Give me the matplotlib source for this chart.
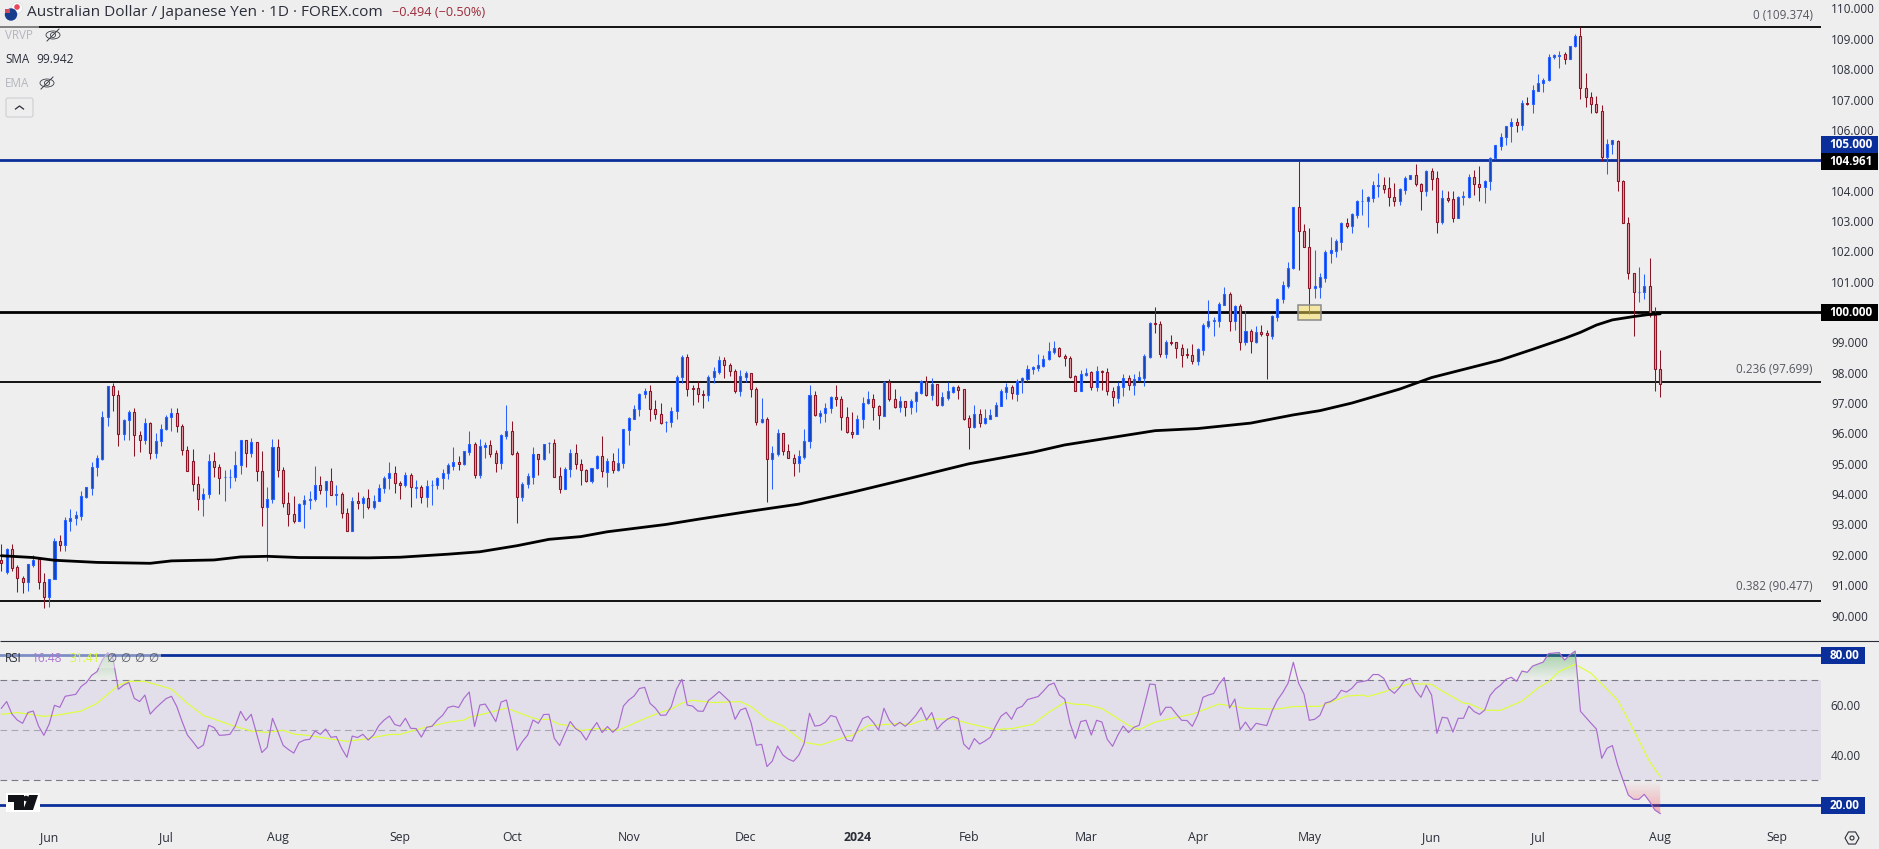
import numpy as np
import matplotlib
matplotlib.use('Agg')
import matplotlib.pyplot as plt
from matplotlib.patches import Rectangle, FancyBboxPatch, Circle, Ellipse, Polygon, RegularPolygon
from matplotlib.path import Path

plt.rcParams['font.family'] = ['Open Sans', 'DejaVu Sans']

# AUD/JPY daily candles
opens = [91.83,91.43,92.18,91.59,91.22,91.09,91.67,91.86,91.09,90.60,
         91.19,92.44,92.33,93.12,93.20,93.29,93.90,94.21,94.88,95.16,
         96.53,97.55,97.25,95.97,96.43,96.69,95.94,95.77,96.33,95.34,
         95.74,96.13,96.53,96.66,96.23,95.44,95.08,94.32,93.83,93.99,
         95.08,94.88,94.55,94.57,94.57,94.95,95.77,95.34,95.71,94.75,
         93.56,93.83,95.54,94.78,93.70,93.33,93.10,93.66,93.82,93.83,
         94.29,94.12,94.42,93.96,93.99,93.37,92.77,93.76,93.70,93.86,
         93.56,93.76,94.19,94.52,94.68,94.36,94.29,94.62,94.21,94.22,
         93.89,94.29,94.29,94.52,94.68,94.94,95.05,95.00,95.40,95.64,
         94.64,95.56,95.61,95.34,95.04,95.93,96.07,95.34,93.89,94.32,
         94.57,95.31,95.17,95.67,95.67,94.60,94.16,94.82,95.34,94.98,
         94.78,94.42,94.85,95.24,94.74,95.08,94.78,95.01,96.12,96.49,
         96.79,97.29,97.39,96.79,96.63,96.37,96.37,96.73,97.85,98.51,
         97.48,97.48,97.29,97.25,97.85,98.03,98.41,98.24,98.05,97.41,
         97.87,97.98,97.45,96.39,96.46,95.15,95.33,96.00,95.41,95.18,
         95.04,95.23,95.74,97.25,96.58,96.66,96.83,97.19,97.12,96.55,
         96.03,95.99,96.46,96.99,97.12,96.89,96.58,97.68,97.14,96.88,
         97.06,96.88,97.06,97.32,97.72,97.27,97.62,96.94,97.18,97.38,
         97.52,97.45,96.50,96.21,96.63,96.34,96.49,96.58,96.90,97.38,
         97.52,97.31,97.71,97.80,98.11,98.17,98.21,98.44,98.69,98.80,
         98.54,98.47,97.88,97.41,97.93,98.01,97.54,98.05,98.01,97.41,
         97.18,97.54,97.81,97.61,97.77,97.84,98.51,99.64,99.60,98.63,
         99.01,99.00,98.80,98.61,98.57,98.39,98.76,99.55,99.69,99.71,
         100.24,100.58,99.71,100.19,99.02,99.36,99.00,99.33,99.30,99.22,
         99.85,100.42,100.87,101.44,103.45,102.66,102.13,100.80,100.84,101.13,
         101.96,102.02,102.32,102.92,102.85,103.21,103.65,103.65,103.77,104.16,
         104.17,104.07,103.78,103.67,104.03,104.39,104.50,104.21,104.00,104.64,
         104.40,102.98,103.75,103.71,103.11,103.80,103.80,104.44,104.21,104.11,
         104.30,105.06,105.48,105.76,106.12,106.25,106.15,106.88,106.84,107.29,
         107.53,107.63,108.39,108.45,108.49,108.33,108.75,109.08,107.37,107.07,
         106.84,106.61,105.10,105.52,105.65,104.31,102.92,101.27,100.65,100.65,
         100.85,99.89,98.11]
closes = [91.72,92.18,91.58,91.22,91.09,91.69,91.83,91.09,90.60,91.19,
          92.44,92.33,93.14,93.20,93.30,93.93,94.22,94.88,95.18,96.53,
          97.55,97.25,95.97,96.43,96.69,95.94,95.77,96.33,95.34,95.74,
          96.13,96.53,96.66,96.23,95.44,94.75,94.32,93.83,93.99,95.08,
          94.88,94.52,94.56,94.58,94.95,95.77,95.34,95.71,94.75,93.56,
          93.83,95.54,94.78,93.70,93.33,93.10,93.66,93.80,93.83,94.29,
          94.12,94.42,93.96,93.99,93.37,92.77,93.76,93.70,93.86,93.56,
          93.76,94.19,94.52,94.68,94.36,94.29,94.62,94.22,94.22,93.89,
          94.26,94.30,94.52,94.68,94.95,95.05,95.00,95.41,95.64,94.64,
          95.57,95.61,95.32,95.04,95.95,96.07,95.32,93.89,94.32,94.60,
          95.31,95.17,95.64,95.69,94.57,94.16,94.82,95.34,94.98,94.78,
          94.42,94.85,95.24,94.75,95.08,94.78,95.01,96.13,96.50,96.79,
          97.29,97.39,96.79,96.63,96.33,96.38,96.73,97.85,98.51,97.47,
          97.47,97.29,97.28,97.85,98.05,98.41,98.24,98.05,97.41,97.88,
          97.98,97.45,96.39,96.46,95.15,95.34,96.00,95.41,95.18,95.04,
          95.24,95.74,97.25,96.60,96.66,96.83,97.19,97.12,96.55,96.03,
          95.99,96.46,96.99,97.12,96.88,96.60,97.68,97.14,96.88,97.06,
          96.88,97.06,97.35,97.72,97.27,97.62,96.94,97.19,97.39,97.52,
          97.44,96.49,96.22,96.63,96.35,96.50,96.60,96.92,97.39,97.52,
          97.32,97.72,97.81,98.11,98.18,98.24,98.44,98.70,98.80,98.54,
          98.47,97.87,97.41,97.95,98.00,97.54,98.05,98.01,97.41,97.19,
          97.55,97.81,97.61,97.78,97.85,98.54,99.64,99.62,98.63,99.00,
          98.98,98.80,98.59,98.59,98.39,98.77,99.56,99.69,99.73,100.25,
          100.58,99.71,100.19,99.02,99.36,99.03,99.33,99.29,99.23,99.86,
          100.42,100.88,101.44,103.45,102.66,102.13,100.80,100.85,101.14,101.97,
          102.03,102.33,102.92,102.85,103.22,103.65,103.66,103.78,104.17,104.17,
          104.06,103.78,103.67,104.04,104.40,104.50,104.21,104.00,104.64,104.39,
          102.98,103.75,103.70,103.11,103.78,103.81,104.44,104.21,104.11,104.31,
          105.07,105.49,105.76,106.13,106.25,106.15,106.88,106.84,107.30,107.53,
          107.63,108.39,108.46,108.46,108.33,108.75,109.08,107.37,107.07,106.84,
          106.59,105.10,105.52,105.66,104.31,102.92,101.27,100.65,100.66,100.85,
          99.89,98.11,97.62]
highs = [92.36,92.21,92.36,91.66,91.30,91.69,91.99,91.92,91.39,91.19,
         92.55,92.64,93.23,93.51,93.43,94.10,94.22,95.06,95.28,96.74,
         97.55,97.67,97.42,96.46,96.76,96.84,96.08,96.50,96.37,96.01,
         96.31,96.61,96.84,96.84,96.30,95.57,95.49,94.60,94.20,95.32,
         95.39,94.98,94.79,94.83,95.42,95.77,95.77,95.85,95.71,95.42,
         94.23,95.82,95.82,94.88,94.07,93.94,93.70,93.97,94.10,94.93,
         94.60,94.42,94.86,94.30,94.07,93.53,93.89,94.06,93.94,94.16,
         93.97,94.33,94.60,95.06,94.93,94.43,94.73,94.68,94.46,94.29,
         94.46,94.46,94.56,94.83,95.03,95.55,95.26,95.41,96.08,95.72,
         95.82,95.72,95.78,95.44,95.97,96.94,96.40,95.42,94.40,94.68,
         95.55,95.31,95.64,95.72,95.82,94.89,94.89,95.49,95.65,95.15,
         94.82,94.85,95.29,95.91,95.19,95.35,95.52,96.13,96.53,96.95,
         97.32,97.48,97.58,97.10,96.99,96.40,96.86,97.91,98.58,98.62,
         97.59,97.73,97.42,97.91,98.19,98.54,98.52,98.31,98.11,98.09,
         98.06,97.98,97.52,97.17,96.53,95.58,96.15,96.00,95.64,95.31,
         95.45,96.15,97.59,97.40,96.77,96.99,97.22,97.59,97.22,96.86,
         96.69,96.60,97.19,97.39,97.29,96.92,97.72,97.78,97.45,97.23,
         97.06,97.13,97.40,97.76,97.89,97.83,97.62,97.36,97.68,97.55,
         97.58,97.45,96.61,96.94,96.80,96.80,96.80,97.03,97.46,97.66,
         97.58,97.79,97.86,98.25,98.22,98.62,98.58,99.01,99.04,98.84,
         98.61,98.54,97.92,98.08,98.14,98.05,98.22,98.08,98.14,97.52,
         97.68,97.96,97.91,97.96,98.05,98.61,99.67,100.15,99.69,99.07,
         99.24,99.00,98.93,98.80,98.93,98.80,99.63,100.40,99.84,100.32,
         100.82,100.65,100.22,100.25,100.02,99.43,99.53,99.56,99.40,99.89,
         100.45,101.02,101.65,103.45,104.97,102.89,102.76,102.04,101.29,102.04,
         102.47,102.39,102.96,103.09,103.25,103.68,104.04,103.81,104.32,104.58,
         104.44,104.45,104.25,104.07,104.47,104.51,104.88,104.24,104.67,104.75,
         104.65,104.01,103.98,103.98,103.81,103.98,104.55,104.68,104.81,104.34,
         105.10,105.50,105.89,106.13,106.38,106.38,106.99,107.07,107.47,107.83,
         107.70,108.50,108.50,108.59,108.56,108.75,109.15,109.38,107.86,107.24,
         107.11,106.81,105.69,105.68,105.66,104.34,103.12,101.27,101.47,101.24,
         101.77,100.15,98.74]
lows = [91.48,91.37,91.48,90.79,90.75,90.82,91.61,90.88,90.26,90.29,
        91.19,92.13,92.13,92.80,92.99,93.16,93.88,93.97,94.61,95.12,
        96.25,96.75,95.60,95.78,95.79,95.27,95.40,95.66,95.17,95.18,
        95.60,96.11,96.08,96.06,95.30,94.75,94.11,93.49,93.29,93.88,
        94.57,94.01,93.78,94.21,94.44,94.66,94.90,95.21,94.44,92.96,
        91.81,93.72,94.57,93.59,92.96,93.06,93.10,92.89,93.52,93.78,
        94.01,93.59,93.96,93.65,93.22,92.77,92.77,93.52,93.22,93.52,
        93.52,93.76,94.04,94.18,94.04,93.84,94.22,93.59,93.87,93.71,
        93.59,93.64,94.17,94.17,94.50,94.79,94.79,94.97,95.30,94.54,
        94.54,95.19,95.22,94.73,94.84,95.82,95.30,93.06,93.78,94.21,
        94.33,94.63,95.13,95.35,94.57,94.04,94.16,94.57,94.83,94.30,
        94.39,94.35,94.82,94.56,94.24,94.68,94.75,94.86,95.62,96.46,
        96.57,97.17,96.41,96.49,96.32,96.06,96.21,96.47,97.65,97.24,
        96.95,97.05,96.85,97.07,97.66,97.95,97.84,97.89,97.34,97.24,
        97.70,97.21,96.29,96.35,93.75,94.18,95.24,95.30,95.18,94.61,
        94.73,95.17,95.51,96.57,96.35,96.39,96.66,96.90,96.11,96.01,
        95.86,96.19,96.19,96.96,96.45,96.16,96.57,97.08,96.85,96.72,
        96.57,96.64,96.70,97.29,97.23,97.10,96.90,96.90,97.10,97.33,
        97.12,96.45,95.49,96.18,96.21,96.31,96.47,96.56,96.89,97.13,
        97.13,97.08,97.33,97.72,97.97,98.07,98.18,98.41,98.62,98.51,
        98.22,97.84,97.39,97.41,97.90,97.44,97.41,97.42,97.27,96.90,
        97.01,97.23,97.43,97.27,97.72,97.56,98.50,99.32,98.51,98.48,
        98.91,98.50,98.19,98.47,98.29,98.25,98.58,99.47,99.21,99.52,
        100.23,99.37,99.41,98.75,98.91,98.65,98.97,99.20,97.80,99.11,
        99.70,100.30,100.80,101.42,101.40,102.13,99.95,100.47,100.47,101.00,
        101.60,101.82,102.05,102.78,102.61,103.11,103.21,102.81,103.62,103.78,
        103.93,103.49,103.49,103.54,103.88,104.37,104.14,103.36,103.83,104.01,
        102.60,102.91,103.64,102.98,103.11,103.54,103.75,103.87,103.67,103.60,
        104.03,105.03,105.34,105.49,105.61,105.94,106.00,106.81,106.57,107.27,
        107.26,107.61,108.33,108.05,108.17,108.33,108.72,107.02,106.77,106.57,
        106.57,104.96,104.56,105.22,104.00,102.92,101.08,99.22,100.34,100.42,
        99.82,97.41,97.21]

# 200 day SMA, read at a set of bars
sma_bar = [0,6,10,18,28,32,40,45,50,56,69,75,84,90,97,103,109,114,125,131,141,150,160,169,
           182,194,200,217,225,235,243,248,254,263,269,282,288,294,297,300,303,307,310,312]
sma_val = [91.97,91.91,91.82,91.75,91.72,91.80,91.83,91.93,91.95,91.91,91.90,91.92,92.02,92.10,
           92.30,92.51,92.60,92.76,93.00,93.17,93.44,93.67,94.06,94.44,95.00,95.38,95.62,96.09,
           96.16,96.34,96.61,96.75,97.00,97.46,97.84,98.42,98.77,99.13,99.33,99.57,99.74,99.85,99.92,99.94]

rsi = [58.8,61.5,56.5,54.1,52.8,57.1,57.7,51.7,48.0,52.5,
       60.0,59.2,63.6,64.0,64.4,67.5,69.1,72.0,73.5,78.1,
       81.1,78.8,66.4,68.1,69.1,62.8,61.5,64.1,56.5,58.8,
       60.8,62.7,63.6,59.5,53.5,48.1,45.5,42.7,44.1,52.0,
       51.1,48.0,48.1,48.4,51.7,57.6,53.9,56.4,48.8,41.1,
       43.2,54.8,49.5,44.0,42.3,40.9,45.1,46.1,46.4,49.7,
       48.4,50.5,47.2,47.5,42.8,39.2,47.7,47.1,48.4,46.1,
       48.1,51.9,54.1,55.7,52.3,51.7,54.8,50.8,50.7,47.3,
       51.2,51.6,54.1,56.0,59.1,59.7,59.1,62.8,65.3,51.5,
       60.1,60.5,57.1,53.5,61.3,62.1,52.8,42.0,45.5,48.1,
       54.1,52.8,56.3,56.4,46.8,43.9,48.8,53.5,50.7,49.3,
       46.1,50.1,53.1,49.1,51.5,49.2,51.2,59.7,62.1,63.7,
       66.7,67.2,60.8,58.9,56.0,56.1,59.5,66.5,70.4,60.1,
       59.7,57.7,57.6,61.9,63.6,65.5,63.5,61.5,54.4,58.1,
       58.9,53.1,44.0,44.4,35.5,37.7,43.7,40.1,38.5,37.6,
       40.1,44.8,56.8,51.7,52.0,53.3,55.9,55.3,50.4,46.0,
       45.7,50.4,54.7,55.6,53.2,50.1,58.8,54.1,51.7,53.2,
       51.6,53.5,56.0,59.1,54.1,57.1,50.4,52.8,54.5,55.5,
       54.7,44.5,42.4,46.7,44.5,45.7,47.2,51.7,55.6,57.2,
       54.4,58.7,59.6,62.3,62.9,63.5,65.7,68.1,68.9,64.1,
       62.5,52.8,46.7,53.5,54.0,48.1,54.0,53.3,46.4,43.6,
       48.1,51.7,49.1,51.2,52.0,60.1,68.5,68.3,56.0,59.2,
       59.2,56.5,54.0,53.9,51.6,56.0,63.2,64.1,64.7,68.4,
       71.1,58.9,62.5,50.3,53.3,50.1,52.8,52.3,51.9,57.7,
       62.1,65.1,68.8,77.2,68.8,64.5,54.0,54.4,56.0,60.9,
       61.5,62.9,66.0,65.3,66.8,69.2,69.5,70.0,72.3,72.3,
       70.8,66.5,64.8,67.1,70.1,70.8,65.9,63.2,68.0,64.1,
       48.8,55.2,54.9,49.3,54.8,54.8,59.7,57.5,56.4,58.1,
       63.9,66.5,68.1,70.4,71.2,69.6,73.7,73.2,75.7,76.5,
       77.3,80.7,80.9,81.1,78.1,80.1,81.7,57.6,55.2,52.8,
       50.5,38.8,42.8,43.9,36.1,30.1,24.1,22.4,22.4,24.4,
       21.5,18.1,16.7]

# RSI moving average, read at a set of bars
ma_bar = [0,3,8,10,15,18,22,24,27,32,35,38,40,44,47,50,53,55,58,62,65,68,73,75,79,84,87,88,92,95,99,
          101,103,105,107,109,112,116,121,124,126,128,130,134,139,141,144,147,151,154,159,160,163,169,
          171,173,175,179,182,187,190,194,197,200,202,204,207,212,214,217,221,224,229,234,240,243,248,
          253,256,257,260,262,265,269,271,275,276,279,282,286,289,291,293,296,299,304,307,310,312]
ma_val = [56.4,57.1,55.6,55.9,57.7,60.8,68.0,69.6,69.6,66.5,60.8,55.9,54.5,51.5,49.7,49.2,50.0,48.5,
          47.9,46.5,45.6,46.4,48.3,48.4,50.8,53.2,54.1,55.2,57.2,58.9,55.7,54.3,54.4,52.3,51.9,49.9,
          50.7,50.0,54.7,57.2,58.5,60.9,62.0,61.1,61.5,59.5,54.4,51.7,45.2,44.1,47.5,47.9,51.9,52.7,
          52.3,53.9,54.5,54.5,52.7,50.3,50.7,52.4,57.2,61.2,60.4,60.3,58.7,52.0,50.3,53.3,55.2,56.5,
          60.5,58.8,58.5,59.5,59.6,63.7,64.1,63.5,65.3,66.9,68.7,68.4,65.7,60.9,60.7,58.0,58.0,61.7,
          66.9,69.5,73.6,76.4,72.8,62.1,50.1,37.5,31.5]

price_ticks = [90,91,92,93,94,95,96,97,98,99,101,102,103,104,106,107,108,109,110]
rsi_ticks = [40,60]
month_bar = [9,31,52,75,96,118,140,161,182,204,225,246,269,289,312,334]
month_lab = ['Jun','Jul','Aug','Sep','Oct','Nov','Dec','2024','Feb','Mar','Apr','May','Jun','Jul','Aug','Sep']

bg = '#EEEEEE'
navy = '#0B2F9A'
up_edge, up_fill = '#2962FF', '#1244B8'
dn_edge, dn_fill = '#8A1526', '#E8A3AC'
text_col = '#2A2E39'

W, H = 1879, 849
PLOT_R, SPLIT, BOTTOM = 1821, 641, 820
fig = plt.figure(figsize=(W / 100, H / 100), dpi=100, facecolor=bg)

ax = fig.add_axes([0, 1 - SPLIT / H, PLOT_R / W, SPLIT / H], facecolor=bg)
ax2 = fig.add_axes([0, 1 - BOTTOM / H, PLOT_R / W, (BOTTOM - SPLIT) / H], facecolor=bg)
xlim = (-0.25, 342.24)

# price panel
o, h, l, c = map(np.array, (opens, highs, lows, closes))
bars = np.arange(len(o))
rising = c >= o
ax.vlines(bars[rising], l[rising], h[rising], color=up_edge, lw=0.75, zorder=3)
ax.vlines(bars[~rising], l[~rising], h[~rising], color=dn_edge, lw=0.75, zorder=3)
ax.bar(bars[rising], (c - o)[rising], bottom=o[rising], width=0.38, facecolor=up_fill,
       edgecolor=up_edge, linewidth=0.8, zorder=4)
ax.bar(bars[~rising], (c - o)[~rising], bottom=o[~rising], width=0.38, facecolor=dn_fill,
       edgecolor=dn_edge, linewidth=0.8, zorder=4)

ax.plot(sma_bar, sma_val, color='black', lw=2.0, zorder=5, solid_capstyle='round')
ax.axhline(109.374, color='black', lw=1.3, zorder=2)
ax.axhline(105, color=navy, lw=2.0, zorder=2)
ax.axhline(100, color='black', lw=2.0, zorder=2)
ax.axhline(97.699, color='black', lw=1.3, zorder=2)
ax.axhline(90.477, color='black', lw=1.3, zorder=2)
ax.add_patch(Rectangle((243.9, 99.73), 4.3, 0.49, facecolor=(0.98, 0.88, 0.35, 0.5),
                       edgecolor='#8A8A8A', lw=1.1, zorder=6))
ax.set_xlim(xlim)
ax.set_ylim(89.16, 110.28)
ax.set_xticks([])
ax.yaxis.tick_right()
ax.set_yticks(price_ticks)
ax.set_yticklabels(['%.3f' % v for v in price_ticks], fontsize=8.5, color=text_col, va='center_baseline')
ax.tick_params(axis='y', length=0, pad=7.2)

# RSI panel
ax2.axhspan(30, 70, color='#E2DFEA', lw=0, zorder=1)
ax2.axhline(80, color=navy, lw=2.0, zorder=2)
ax2.axhline(20, color=navy, lw=2.0, zorder=2)
ax2.axhline(70, color='#787B86', lw=0.8, ls=(0, (6, 4)), zorder=2)
ax2.axhline(50, color='#787B86', lw=0.8, ls=(0, (6, 4)), alpha=0.55, zorder=2)
ax2.axhline(30, color='#787B86', lw=0.8, ls=(0, (6, 4)), zorder=2)
ax2.plot(ma_bar, ma_val, color='#DDFF3C', lw=0.85, zorder=4)
ax2.plot(bars, rsi, color='#A96BCF', lw=0.85, zorder=5)


def gradient_fill(first, last, level, colour, y0, y1, a0, a1, above):
    # shade between the RSI line and a level, fading along the value axis
    xs = bars[first:last + 1]
    ys = np.array(rsi)[first:last + 1]
    mask = ys > level if above else ys < level
    poly = ax2.fill_between(xs, ys, level, where=mask, interpolate=True, lw=0)
    clip = Path.make_compound_path(*poly.get_paths())
    poly.remove()
    img = np.zeros((200, 1, 4))
    img[:, 0, :3] = matplotlib.colors.to_rgb(colour)
    img[:, 0, 3] = np.linspace(a0, a1, 200)
    im = ax2.imshow(img, extent=[first, last, y0, y1], origin='lower', aspect='auto', zorder=3)
    im.set_clip_path(clip, ax2.transData)


gradient_fill(16, 22, 70, '#4CAF50', 70, 82, 0.0, 0.42, True)
gradient_fill(282, 298, 70, '#4CAF50', 70, 82, 0.0, 0.5, True)
gradient_fill(304, 312, 30, '#F23645', 15, 30, 0.42, 0.0, False)

ax2.set_xlim(xlim)
ax2.set_ylim(14.12, 85.72)
ax2.yaxis.tick_right()
ax2.set_yticks(rsi_ticks)
ax2.set_yticklabels(['%.2f' % v for v in rsi_ticks], fontsize=8.5, color=text_col, va='center_baseline')
ax2.set_xticks(month_bar)
ax2.set_xticklabels(month_lab, fontsize=8.8, color=text_col)
ax2.get_xticklabels()[7].set_fontweight('bold')
ax2.tick_params(axis='y', length=0, pad=6.8)
ax2.tick_params(axis='x', length=0, pad=8)
for a in (ax, ax2):
    for s in a.spines.values():
        s.set_visible(False)

# overlay in pixel units for the header, legends and price badges
ui = fig.add_axes([0, 0, 1, 1], zorder=10)
ui.set_xlim(0, W)
ui.set_ylim(H, 0)
ui.axis('off')
ui.hlines(SPLIT, 0, W, color=text_col, lw=0.8)
ui.add_patch(Rectangle((0, 24), 39, 20, facecolor=bg, alpha=0.5, lw=0))
ui.add_patch(Rectangle((0, 648), 161, 20, facecolor=bg, alpha=0.5, lw=0))

ui.add_patch(Circle((17, 8), 5.5, facecolor='white', edgecolor='#DDDDDD', lw=0.5))
ui.add_patch(Circle((17, 7), 2.8, facecolor='#E8485A', lw=0))
ui.add_patch(Circle((11, 14.5), 6.2, facecolor='#173E8C', lw=0))
ui.add_patch(Rectangle((5.5, 9), 5, 4, facecolor='#D64B5B', lw=0))
ui.text(27, 12, 'Australian Dollar / Japanese Yen · 1D · FOREX.com', fontsize=11.1, color=text_col, va='center')
ui.text(392, 12, '−0.494 (−0.50%)', fontsize=9.2, color='#9C2A3A', va='center')


def eye_off(x, y):
    ui.add_patch(Ellipse((x, y), 14, 8, facecolor='none', edgecolor='#3A3D47', lw=0.6))
    ui.add_patch(Circle((x, y), 2.5, facecolor='none', edgecolor='#3A3D47', lw=0.6))
    ui.plot([x - 6, x + 6], [y + 6, y - 6], color='#3A3D47', lw=0.7)


ui.text(5, 35.5, 'VRVP', fontsize=8.4, color='#B4B6BE', va='center')
eye_off(53, 35)
ui.text(5, 59.5, 'SMA', fontsize=8.4, color=text_col, va='center')
ui.text(36, 59.5, '99.942', fontsize=8.7, color=text_col, va='center')
ui.text(5, 83.5, 'EMA', fontsize=8.4, color='#B4B6BE', va='center')
eye_off(47, 83)
ui.add_patch(FancyBboxPatch((6, 98), 27, 19, boxstyle='round,pad=0,rounding_size=2',
                            facecolor=bg, edgecolor='#CFCFD4', lw=0.8))
ui.plot([15.5, 19.5, 23.5], [109, 106, 109], color=text_col, lw=0.9)

ui.text(1813, 15.5, '0 (109.374)', fontsize=8.4, color='#555862', ha='right', va='center')
ui.text(1813, 369, '0.236 (97.699)', fontsize=8.4, color='#555862', ha='right', va='center')
ui.text(1813, 587, '0.382 (90.477)', fontsize=8.4, color='#555862', ha='right', va='center')

# right axis badges
badges = [(136, 153, 1878, navy, '105.000'), (153, 170, 1878, 'black', '104.961'),
          (304, 321, 1878, 'black', '100.000'), (647, 664, 1865, navy, '80.00'),
          (797, 814, 1865, navy, '20.00')]
for top, bot, right, col, lab in badges:
    ui.add_patch(Rectangle((PLOT_R, top), right - PLOT_R, bot - top, facecolor=col, lw=0))
    ui.text(right - 5.5, (top + bot) / 2 - 0.3, lab, fontsize=8.5, color='white', fontweight='bold',
            ha='right', va='center')

# RSI legend
ui.text(5, 658, 'RSI', fontsize=8.4, color=text_col, va='center')
ui.text(32, 658, '16.48', fontsize=8.6, color='#AE76D4', va='center')
ui.text(69, 658, '31.41', fontsize=8.6, color='#D9F83A', va='center')
for x in (111, 125, 139, 153):
    ui.text(x, 658, '∅', fontsize=8.4, color='#555862', ha='center', va='center')

# logo
ui.add_patch(Rectangle((6, 793), 34, 19, facecolor='white', lw=0))
ui.add_patch(Polygon([(8, 795), (24, 795), (24, 810), (14, 810), (14, 802), (8, 802)], facecolor='#111318', lw=0))
ui.add_patch(Circle((26, 798.5), 2.8, facecolor='#111318', lw=0))
ui.add_patch(Polygon([(29, 795), (38, 795), (33, 810), (23, 810)], facecolor='#111318', lw=0))

# settings icon
ui.add_patch(RegularPolygon((1852, 838), 6, radius=7, orientation=np.pi / 2, facecolor='none',
                            edgecolor=text_col, lw=0.8))
ui.add_patch(Circle((1852, 838), 2, facecolor='none', edgecolor=text_col, lw=0.8))

fig.savefig('out.png', dpi=100, facecolor=bg)
